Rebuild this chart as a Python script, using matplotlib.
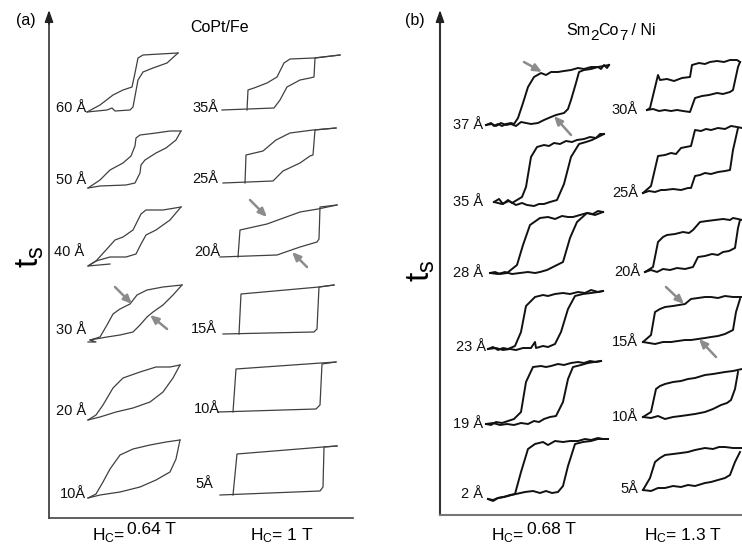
import matplotlib
matplotlib.use("Agg")
import matplotlib.pyplot as plt

W, H = 742, 544
plt.rcParams['font.family'] = ['Liberation Sans', 'DejaVu Sans']
plt.rcParams['mathtext.fontset'] = 'custom'
plt.rcParams['mathtext.rm'] = 'Liberation Sans'
plt.rcParams['mathtext.it'] = 'Liberation Sans:italic'
plt.rcParams['mathtext.bf'] = 'Liberation Sans:bold'

# ---------------- data: hysteresis loops (field offset h, signal offset m) ----------------
# Panel (a) CoPt/Fe, column Hc = 0.64 T
a1_labels = ["60 Å", "50 Å", "40 Å", "30 Å", "20 Å", "10Å"]
a1_60_up_h = [0, 13, 26, 36, 45, 48, 51, 56, 73, 91]
a1_60_up_m = [0, 7, 17, 22, 25, 39, 54, 57, 58, 59]
a1_60_lo_h = [0, 20, 25, 28, 43, 46, 51, 56, 66, 80, 91]
a1_60_lo_m = [0, 2, 4, 1, 2, 5, 32, 40, 44, 49, 59]
a1_50_up_h = [0, 12, 22, 35, 43, 47, 48, 52, 68, 82, 93]
a1_50_up_m = [0, 8, 18, 25, 32, 42, 50, 53, 55, 57, 57]
a1_50_lo_h = [0, 12, 38, 47, 52, 53, 57, 68, 78, 88, 93]
a1_50_lo_m = [0, 2, 3, 5, 15, 23, 28, 35, 40, 48, 57]
a1_40_up_h = [0, 8, 18, 27, 35, 45, 50, 53, 58, 75, 93]
a1_40_up_m = [0, 5, 16, 26, 29, 36, 46, 52, 56, 56, 59]
a1_40_lo_h = [22, 0, 8, 22, 38, 48, 53, 58, 68, 82, 93]
a1_40_lo_m = [2, 0, 5, 9, 9, 12, 22, 31, 36, 46, 59]
a1_30_up_h = [0, 10, 17, 23, 30, 40, 47, 57, 73, 92]
a1_30_up_m = [2, 5, 17, 28, 33, 38, 47, 52, 55, 57]
a1_30_lo_h = [-2, 6, 0, 17, 30, 43, 50, 57, 63, 73, 83, 92]
a1_30_lo_m = [0, 0, 2, 5, 7, 10, 17, 25, 30, 37, 47, 57]
a1_20_up_h = [0, 8, 15, 25, 35, 52, 68, 82, 92]
a1_20_up_m = [0, 5, 15, 32, 42, 48, 53, 53, 55]
a1_20_lo_h = [0, 12, 28, 45, 62, 75, 85, 92]
a1_20_lo_m = [0, 3, 8, 12, 18, 28, 42, 55]
a1_10_up_h = [0, 8, 15, 22, 32, 45, 62, 78, 92]
a1_10_up_m = [0, 4, 16, 29, 43, 49, 53, 56, 58]
a1_10_lo_h = [0, 12, 32, 52, 68, 82, 88, 92]
a1_10_lo_m = [0, 3, 6, 11, 18, 26, 39, 58]

# Panel (a) CoPt/Fe, column Hc = 1 T
a2_labels = ["35Å", "25Å", "20Å", "15Å", "10Å", "5Å"]
a2_35_up_h = [25, 26, 32, 45, 55, 62, 68, 92, 118]
a2_35_up_m = [0, 20, 22, 27, 33, 47, 51, 52, 55]
a2_35_lo_h = [0, 52, 58, 65, 78, 88, 92, 93, 118]
a2_35_lo_m = [0, 2, 10, 23, 30, 32, 33, 52, 55]
a2_25_up_h = [22, 23, 40, 53, 67, 90, 113]
a2_25_up_m = [0, 28, 32, 43, 50, 53, 55]
a2_25_lo_h = [0, 50, 60, 77, 87, 90, 92, 113]
a2_25_lo_m = [0, 2, 12, 20, 27, 28, 53, 55]
a2_20_up_h = [18, 20, 47, 80, 98, 117]
a2_20_up_m = [0, 27, 33, 45, 48, 52]
a2_20_lo_h = [0, 57, 80, 97, 99, 100, 117]
a2_20_lo_m = [0, 2, 10, 15, 18, 50, 52]
a2_15_up_h = [16, 18, 96, 111]
a2_15_up_m = [0, 40, 47, 49]
a2_15_lo_h = [0, 91, 94, 96, 111]
a2_15_lo_m = [0, 2, 5, 47, 49]
a2_10_up_h = [15, 18, 103, 118]
a2_10_up_m = [0, 43, 49, 50]
a2_10_lo_h = [0, 98, 102, 104, 118]
a2_10_lo_m = [0, 3, 7, 48, 50]
a2_5_up_h = [13, 17, 103, 117]
a2_5_up_m = [0, 41, 48, 49]
a2_5_lo_h = [0, 100, 103, 104, 117]
a2_5_lo_m = [0, 4, 8, 48, 49]

# Panel (b) Sm2Co7/Ni, column Hc = 0.68 T
b1_labels = ["37 Å", "35 Å", "28 Å", "23 Å", "19 Å", "2 Å"]
b1_37_up_h = [0, 5, 8, 12, 16, 20, 25, 28, 32, 37, 42, 48, 55, 60, 65, 72, 78, 85, 92, 98, 105, 112, 115, 118, 121, 123]
b1_37_up_m = [0, 2, -1, 1, -1, 1, 2, 1, 7, 22, 38, 48, 52, 50, 53, 53, 54, 55, 57, 56, 58, 58, 56, 60, 57, 60]
b1_37_lo_h = [0, 6, 10, 15, 20, 25, 30, 35, 40, 45, 52, 58, 65, 70, 78, 82, 85, 90, 93, 98, 105, 112, 123]
b1_37_lo_m = [0, 1, -1, 2, 0, 1, -1, 3, 2, 1, 2, 5, 8, 10, 12, 16, 25, 42, 53, 55, 56, 58, 60]
b1_35_up_h = [0, 5, 9, 14, 18, 23, 28, 32, 37, 43, 50, 55, 60, 66, 72, 78, 83, 90, 96, 102, 106, 110]
b1_35_up_m = [0, 3, -2, 2, -1, 2, 5, 15, 45, 55, 57, 56, 59, 58, 61, 60, 62, 63, 65, 64, 68, 68]
b1_35_lo_h = [0, 8, 15, 22, 28, 33, 40, 45, 50, 56, 63, 70, 77, 85, 92, 98, 104, 110]
b1_35_lo_m = [0, -2, 1, -3, -1, -3, -4, -2, -2, 0, 2, 18, 45, 58, 60, 62, 65, 68]
b1_28_up_h = [0, 5, 10, 17, 27, 33, 40, 50, 58, 65, 72, 78, 83, 90, 97, 103, 108, 113]
b1_28_up_m = [0, 1, -1, 0, 8, 28, 48, 55, 56, 54, 57, 56, 56, 58, 60, 59, 62, 61]
b1_28_lo_h = [0, 8, 15, 22, 30, 38, 45, 50, 57, 63, 73, 80, 87, 97, 105, 113]
b1_28_lo_m = [0, -1, 1, -1, 0, 1, 0, 1, 3, 6, 11, 35, 51, 60, 58, 61]
b1_23_up_h = [0, 5, 10, 15, 20, 27, 33, 38, 47, 55, 60, 67, 75, 82, 90, 97, 103, 110, 115]
b1_23_up_m = [0, 2, -1, 1, 0, 3, 17, 43, 52, 54, 53, 55, 56, 55, 57, 56, 59, 57, 58]
b1_23_lo_h = [0, 8, 15, 22, 28, 35, 43, 47, 48, 55, 60, 67, 73, 80, 87, 95, 103, 110, 115]
b1_23_lo_m = [0, 1, -1, 0, -1, 1, 1, 7, 1, 3, 2, 5, 17, 40, 53, 55, 56, 57, 58]
b1_19_up_h = [0, 5, 10, 16, 22, 28, 35, 40, 47, 55, 60, 65, 72, 78, 85, 92, 98, 104, 110, 115]
b1_19_up_m = [0, -1, 2, 1, 3, 5, 12, 42, 57, 58, 57, 58, 60, 59, 61, 62, 61, 63, 62, 63]
b1_19_lo_h = [0, 7, 14, 21, 28, 35, 42, 48, 53, 58, 64, 70, 77, 82, 87, 95, 102, 108, 115]
b1_19_lo_m = [0, 1, -1, 0, -1, 1, 0, 3, 2, 5, 7, 8, 22, 45, 57, 59, 61, 62, 63]
b1_2_up_h = [0, 5, 10, 15, 20, 27, 33, 40, 47, 55, 60, 67, 75, 82, 90, 97, 103, 110, 115, 120]
b1_2_up_m = [0, -1, 1, 2, 3, 5, 27, 50, 55, 57, 54, 58, 57, 58, 58, 60, 59, 61, 60, 60]
b1_2_lo_h = [0, 5, 10, 16, 22, 28, 37, 45, 52, 58, 64, 70, 75, 80, 87, 95, 103, 110, 120]
b1_2_lo_m = [0, -2, 1, 2, 4, 5, 7, 8, 6, 8, 6, 7, 13, 33, 55, 57, 58, 60, 60]

# Panel (b) Sm2Co7/Ni, column Hc = 1.3 T
b2_labels = ["30Å", "25Å", "20Å", "15Å", "10Å", "5Å"]
b2_30_up_h = [0, 3, 11, 13, 20, 27, 35, 43, 45, 52, 58, 63, 70, 77, 83, 90, 93]
b2_30_up_m = [0, 2, 35, 30, 31, 29, 32, 33, 45, 47, 46, 48, 49, 48, 50, 50, 48]
b2_30_lo_h = [0, 6, 12, 18, 24, 30, 36, 43, 48, 55, 62, 70, 76, 83, 86, 91, 93]
b2_30_lo_m = [0, 1, -1, 0, -1, 0, -1, -2, 12, 14, 15, 17, 16, 18, 20, 43, 48]
b2_25_up_h = [0, 8, 15, 22, 28, 33, 38, 43, 48, 52, 58, 63, 68, 75, 82, 88, 94, 99]
b2_25_up_m = [0, 7, 37, 38, 40, 39, 45, 46, 47, 63, 62, 64, 63, 65, 64, 67, 66, 65]
b2_25_lo_h = [0, 6, 12, 18, 22, 30, 38, 45, 48, 52, 57, 62, 68, 75, 82, 87, 90, 95]
b2_25_lo_m = [0, 2, 1, 3, 3, 4, 3, 5, 5, 17, 18, 20, 19, 21, 22, 23, 43, 65]
b2_20_up_h = [0, 8, 13, 18, 22, 30, 38, 44, 48, 55, 62, 70, 78, 85, 88, 93, 97]
b2_20_up_m = [0, 5, 30, 35, 37, 38, 40, 39, 42, 50, 51, 52, 53, 52, 54, 53, 52]
b2_20_lo_h = [0, 6, 12, 18, 25, 32, 40, 48, 53, 60, 67, 73, 78, 84, 90, 93, 95]
b2_20_lo_m = [0, 2, 0, 3, 2, 4, 3, 5, 15, 16, 18, 17, 20, 21, 24, 44, 52]
b2_15_up_h = [0, 8, 12, 17, 22, 30, 36, 42, 48, 55, 62, 68, 75, 82, 90, 99]
b2_15_up_m = [0, 7, 30, 33, 35, 36, 37, 38, 43, 44, 45, 45, 44, 46, 45, 45]
b2_15_lo_h = [0, 6, 12, 20, 28, 35, 42, 48, 55, 62, 68, 75, 82, 90, 93, 97]
b2_15_lo_m = [0, -1, -2, 0, 0, 1, 2, 2, 3, 4, 5, 6, 8, 12, 30, 43]
b2_10_up_h = [0, 8, 13, 17, 22, 30, 38, 45, 52, 62, 70, 76, 82, 90, 99]
b2_10_up_m = [0, 5, 28, 31, 33, 35, 36, 38, 39, 42, 43, 44, 45, 46, 48]
b2_10_lo_h = [0, 8, 15, 22, 30, 38, 45, 52, 62, 70, 78, 84, 88, 92, 95]
b2_10_lo_m = [0, -1, 1, -2, 0, 1, 2, 3, 5, 8, 12, 14, 17, 28, 45]
b2_5_up_h = [0, 7, 12, 17, 22, 30, 38, 45, 52, 62, 70, 76, 82, 90, 99]
b2_5_up_m = [0, 12, 28, 32, 35, 36, 37, 38, 40, 42, 41, 43, 43, 42, 42]
b2_5_lo_h = [0, 8, 15, 22, 30, 38, 45, 52, 62, 68, 75, 82, 87, 92, 97]
b2_5_lo_m = [0, -1, 2, 2, 4, 3, 5, 4, 7, 8, 10, 12, 15, 28, 38]

hc_a = ["0.64 T", "1 T"]
hc_b = ["0.68 T", "1.3 T"]

# ---------------- layout (pixel positions, y from top) ----------------
a1_base = [(87, 112), (88, 188), (88, 266), (90, 342), (88, 420), (88, 498)]
a2_base = [(222, 110), (223, 183), (220, 257), (223, 334), (218, 412), (220, 495)]
b1_base = [(486, 125), (494, 202), (490, 273), (488, 349), (486, 424), (488, 499)]
b2_base = [(647, 110), (643, 193), (645, 272), (643, 342), (643, 417), (643, 490)]
a1_lab = [(86, 108), (86, 180), (84, 252), (86, 330), (86, 411), (86, 494)]
a2_lab = [(218, 108), (218, 179), (220, 252), (217, 329), (220, 409), (213, 484)]
b1_lab = [(483, 125), (483, 202), (483, 273), (486, 347), (483, 424), (483, 494)]
b2_lab = [(638, 110), (638, 193), (640, 272), (638, 342), (638, 417), (638, 489)]

columns = [
    (a1_base, a1_lab, a1_labels,
     [(a1_60_up_h, a1_60_up_m, a1_60_lo_h, a1_60_lo_m),
      (a1_50_up_h, a1_50_up_m, a1_50_lo_h, a1_50_lo_m),
      (a1_40_up_h, a1_40_up_m, a1_40_lo_h, a1_40_lo_m),
      (a1_30_up_h, a1_30_up_m, a1_30_lo_h, a1_30_lo_m),
      (a1_20_up_h, a1_20_up_m, a1_20_lo_h, a1_20_lo_m),
      (a1_10_up_h, a1_10_up_m, a1_10_lo_h, a1_10_lo_m)], '#404040', 0.9),
    (a2_base, a2_lab, a2_labels,
     [(a2_35_up_h, a2_35_up_m, a2_35_lo_h, a2_35_lo_m),
      (a2_25_up_h, a2_25_up_m, a2_25_lo_h, a2_25_lo_m),
      (a2_20_up_h, a2_20_up_m, a2_20_lo_h, a2_20_lo_m),
      (a2_15_up_h, a2_15_up_m, a2_15_lo_h, a2_15_lo_m),
      (a2_10_up_h, a2_10_up_m, a2_10_lo_h, a2_10_lo_m),
      (a2_5_up_h, a2_5_up_m, a2_5_lo_h, a2_5_lo_m)], '#404040', 0.9),
    (b1_base, b1_lab, b1_labels,
     [(b1_37_up_h, b1_37_up_m, b1_37_lo_h, b1_37_lo_m),
      (b1_35_up_h, b1_35_up_m, b1_35_lo_h, b1_35_lo_m),
      (b1_28_up_h, b1_28_up_m, b1_28_lo_h, b1_28_lo_m),
      (b1_23_up_h, b1_23_up_m, b1_23_lo_h, b1_23_lo_m),
      (b1_19_up_h, b1_19_up_m, b1_19_lo_h, b1_19_lo_m),
      (b1_2_up_h, b1_2_up_m, b1_2_lo_h, b1_2_lo_m)], '#111111', 1.4),
    (b2_base, b2_lab, b2_labels,
     [(b2_30_up_h, b2_30_up_m, b2_30_lo_h, b2_30_lo_m),
      (b2_25_up_h, b2_25_up_m, b2_25_lo_h, b2_25_lo_m),
      (b2_20_up_h, b2_20_up_m, b2_20_lo_h, b2_20_lo_m),
      (b2_15_up_h, b2_15_up_m, b2_15_lo_h, b2_15_lo_m),
      (b2_10_up_h, b2_10_up_m, b2_10_lo_h, b2_10_lo_m),
      (b2_5_up_h, b2_5_up_m, b2_5_lo_h, b2_5_lo_m)], '#111111', 1.4),
]

fig = plt.figure(figsize=(W / 100, H / 100), dpi=100)
fig.patch.set_facecolor('white')


def panel_axes(x0, x1, ytop, ybot, lcol, bcol, lw):
    a = fig.add_axes([x0 / W, (H - ybot) / H, (x1 - x0) / W, (ybot - ytop) / H])
    a.set_xticks([])
    a.set_yticks([])
    a.patch.set_alpha(0)
    for s in ('top', 'right'):
        a.spines[s].set_visible(False)
    a.spines['left'].set_color(lcol)
    a.spines['bottom'].set_color(bcol)
    a.spines['left'].set_linewidth(lw)
    a.spines['bottom'].set_linewidth(lw)
    return a


pa = panel_axes(49, 353, 22, 518, '#333333', '#444444', 1.2)
pb = panel_axes(440, 760, 22, 515, '#333333', '#777777', 1.5)

ax = fig.add_axes([0, 0, 1, 1])
ax.set_xlim(0, W)
ax.set_ylim(H, 0)
ax.axis('off')
ax.patch.set_alpha(0)

# axis arrowheads
for xa in (49, 440):
    ax.annotate('', xy=(xa, 10), xytext=(xa, 24),
                arrowprops=dict(arrowstyle='-|>,head_length=0.7,head_width=0.25',
                                color='#222222', lw=1.2, shrinkA=0, shrinkB=0))

for base, labpos, labels, loops, col, lw in columns:
    for (bx, by), (lx, ly), lab, (uh, um, lh, lm) in zip(base, labpos, labels, loops):
        ax.plot([bx + v for v in uh], [by - v for v in um], color=col, lw=lw,
                solid_joinstyle='round')
        ax.plot([bx + v for v in lh], [by - v for v in lm], color=col, lw=lw,
                solid_joinstyle='round')
        ax.text(lx, ly, lab, ha='right', va='center', fontsize=10.5, color='#111111')

# gray arrows pointing to loop features
arrows = [((115, 287), (132, 304)), ((167, 329), (150, 315)),
          ((250, 200), (267, 217)), ((307, 267), (292, 252)),
          ((524, 62), (542, 72)), ((571, 135), (554, 116)),
          ((666, 287), (684, 304)), ((716, 357), (699, 339))]
for tail, head in arrows:
    ax.annotate('', xy=head, xytext=tail,
                arrowprops=dict(arrowstyle='-|>,head_length=0.5,head_width=0.22',
                                color='#8c8c8c', lw=1.8, shrinkA=0, shrinkB=0))

# titles and panel letters
ax.text(26, 21, "(a)", ha='center', va='center', fontsize=11.5)
ax.text(415, 21, "(b)", ha='center', va='center', fontsize=11.5)
ax.text(220, 28, "CoPt/Fe", ha='center', va='center', fontsize=11.5)

# Sm2Co7 / Ni with large, low subscripts (pieces placed one after another)
renderer = fig.canvas.get_renderer()
cx = 566
for piece, dy, fs in [("Sm", 0, 11.5), ("2", 5, 11), ("Co", 0, 11.5), ("7", 5, 11), (" / Ni", 0, 11.5)]:
    t = ax.text(cx, 35 + dy, piece, ha='left', va='baseline', fontsize=fs)
    cx += t.get_window_extent(renderer=renderer).width

# y labels
ax.text(30, 257, r"$\mathrm{t}_{\mathrm{s}}$", rotation=90, ha='center', va='center', fontsize=24)
ax.text(421, 271, r"$\mathrm{t}_{\mathrm{s}}$", rotation=90, ha='center', va='center', fontsize=24)

# bottom coercive field labels
ax.text(92, 536, r"H$_{\mathrm{C}}$=", ha='left', va='center', fontsize=12.5)
ax.text(127, 530, hc_a[0], ha='left', va='center', fontsize=12.5)
ax.text(250, 536, r"H$_{\mathrm{C}}$= " + hc_a[1], ha='left', va='center', fontsize=12.5)
ax.text(491, 536, r"H$_{\mathrm{C}}$=", ha='left', va='center', fontsize=12.5)
ax.text(527, 530, hc_b[0], ha='left', va='center', fontsize=12.5)
ax.text(644, 536, r"H$_{\mathrm{C}}$= " + hc_b[1], ha='left', va='center', fontsize=12.5)

fig.savefig("out.png", dpi=100, facecolor='white')
